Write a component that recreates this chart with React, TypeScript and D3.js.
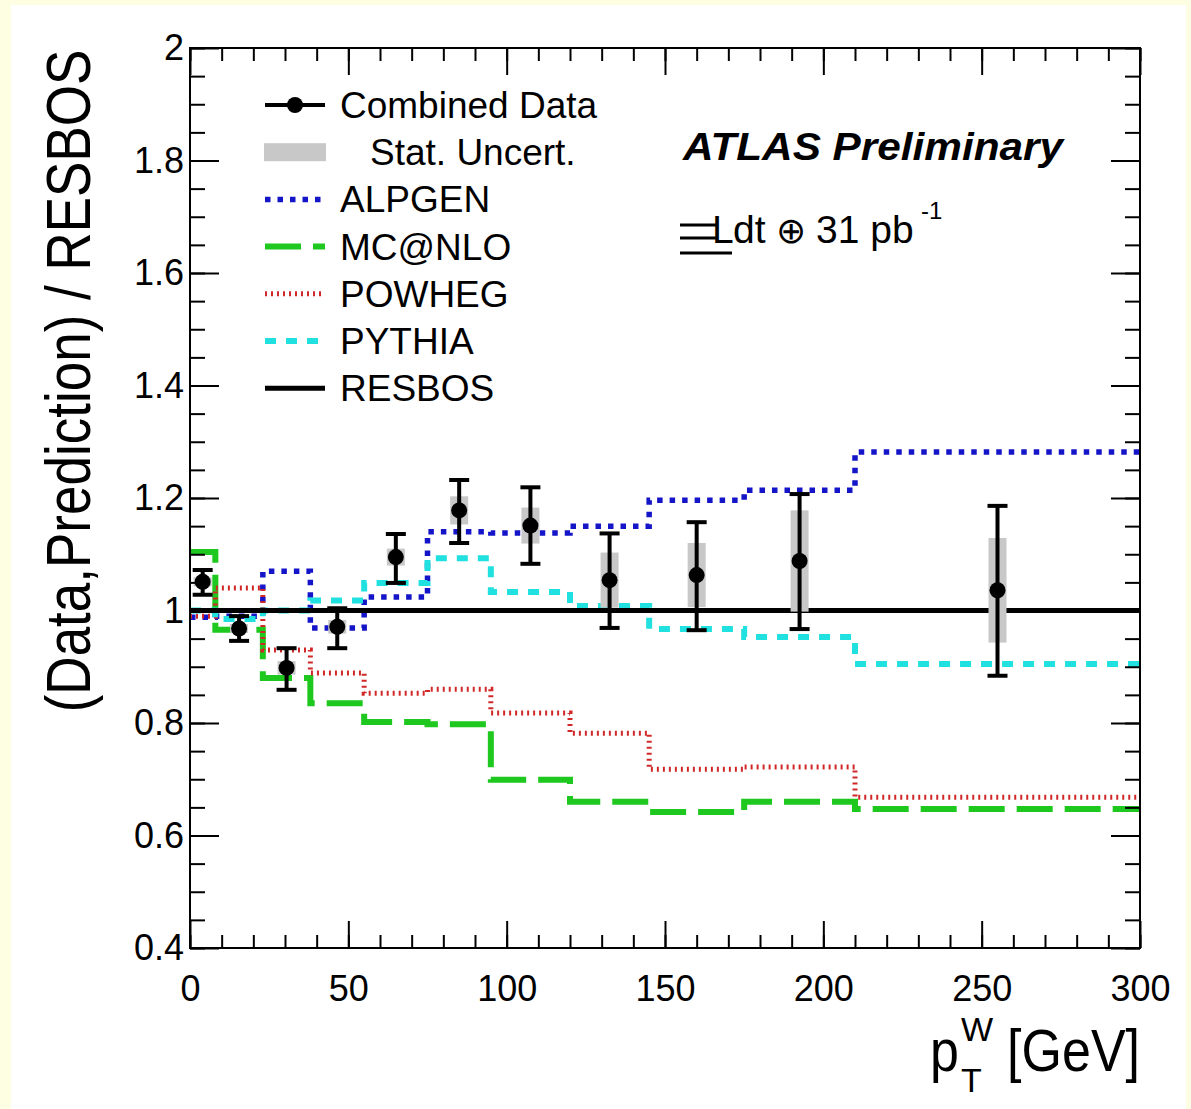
import { useEffect, useRef } from "react";
import * as d3 from "d3";

// bin edges in pT(W) [GeV]
const binEdges = [0, 8, 23, 38, 55, 75, 95, 120, 145, 175, 210, 300];

// prediction / RESBOS, one value per bin
const alpgen = [0.988, 0.99, 1.07, 0.969, 1.024, 1.14, 1.138, 1.15, 1.196, 1.214, 1.282];
const mcatnlo = [1.104, 0.966, 0.88, 0.835, 0.802, 0.798, 0.699, 0.66, 0.642, 0.66, 0.647];
const powheg = [0.99, 1.04, 0.93, 0.889, 0.853, 0.86, 0.818, 0.782, 0.718, 0.722, 0.668];
const pythia = [1.0, 0.985, 1.0, 1.018, 1.049, 1.093, 1.033, 1.008, 0.967, 0.953, 0.905];
const resbos = [1, 1, 1, 1, 1, 1, 1, 1, 1, 1, 1];

// combined data / RESBOS
const dataX = [4, 15.5, 30.5, 46.5, 65, 85, 107.5, 132.5, 160, 192.5, 255];
const dataY = [1.051, 0.968, 0.898, 0.971, 1.095, 1.178, 1.151, 1.054, 1.063, 1.088, 1.036];
const errUp = [0.021, 0.022, 0.035, 0.033, 0.041, 0.054, 0.068, 0.083, 0.094, 0.119, 0.15];
const errDown = [0.023, 0.022, 0.039, 0.038, 0.046, 0.058, 0.068, 0.085, 0.098, 0.121, 0.152];
const statErr = [0.008, 0.008, 0.012, 0.012, 0.015, 0.025, 0.032, 0.049, 0.057, 0.09, 0.093];

const xMajor = [0, 50, 100, 150, 200, 250, 300];
const xTickLabels = ["0", "50", "100", "150", "200", "250", "300"];
const yMajor = [0.4, 0.6, 0.8, 1, 1.2, 1.4, 1.6, 1.8, 2];
const yTickLabels = ["0.4", "0.6", "0.8", "1", "1.2", "1.4", "1.6", "1.8", "2"];

const legendNames = ["Combined Data", "Stat. Uncert.", "ALPGEN", "MC@NLO", "POWHEG", "PYTHIA", "RESBOS"];

const W = 1191;
const H = 1109;
const left = 190;
const right = 1140;
const top = 48;
const bottom = 948;
const font = "'Liberation Sans', Arial, Helvetica, sans-serif";

const styles = {
  ALPGEN: { color: "#1414c8", width: 5.5, dash: "5.5 7" },
  "MC@NLO": { color: "#1ec81e", width: 6, dash: "36 12" },
  POWHEG: { color: "#d02828", width: 5, dash: "2 4" },
  PYTHIA: { color: "#20e0e0", width: 6, dash: "11 10" },
  RESBOS: { color: "#000000", width: 5, dash: null },
};

const series = [
  { name: "ALPGEN", values: alpgen },
  { name: "MC@NLO", values: mcatnlo },
  { name: "POWHEG", values: powheg },
  { name: "PYTHIA", values: pythia },
  { name: "RESBOS", values: resbos },
];

export default function App() {
  const xAxisRef = useRef(null);
  const yAxisRef = useRef(null);

  const x = d3.scaleLinear().domain([0, 300]).range([left, right]);
  const y = d3.scaleLinear().domain([0.4, 2]).range([bottom, top]);

  const step = d3
    .line<[number, number]>()
    .x((d) => x(d[0]))
    .y((d) => y(d[1]))
    .curve(d3.curveStepAfter);

  const histPoints = (vals: number[]) =>
    binEdges.map((e, i) => [e, vals[Math.min(i, vals.length - 1)]] as [number, number]);

  useEffect(() => {
    const gx = d3.select(xAxisRef.current);
    const gy = d3.select(yAxisRef.current);
    gx.selectAll("*").remove();
    gy.selectAll("*").remove();

    // x axes (bottom with labels, top without)
    gx.append("g")
      .attr("transform", `translate(0,${bottom})`)
      .call(d3.axisBottom(x).tickValues(xMajor).tickSize(-27).tickPadding(27).tickFormat((_, i) => xTickLabels[i]));
    gx.append("g")
      .attr("transform", `translate(0,${bottom})`)
      .call(d3.axisBottom(x).ticks(30).tickSize(-13).tickFormat(() => ""));
    gx.append("g")
      .attr("transform", `translate(0,${top})`)
      .call(d3.axisTop(x).tickValues(xMajor).tickSize(-27).tickFormat(() => ""));
    gx.append("g")
      .attr("transform", `translate(0,${top})`)
      .call(d3.axisTop(x).ticks(30).tickSize(-13).tickFormat(() => ""));

    // y axes (left with labels, right without)
    gy.append("g")
      .attr("transform", `translate(${left},0)`)
      .call(d3.axisLeft(y).tickValues(yMajor).tickSize(-29).tickPadding(6).tickFormat((_, i) => yTickLabels[i]));
    gy.append("g")
      .attr("transform", `translate(${left},0)`)
      .call(d3.axisLeft(y).ticks(32).tickSize(-15).tickFormat(() => ""));
    gy.append("g")
      .attr("transform", `translate(${right},0)`)
      .call(d3.axisRight(y).tickValues(yMajor).tickSize(-29).tickFormat(() => ""));
    gy.append("g")
      .attr("transform", `translate(${right},0)`)
      .call(d3.axisRight(y).ticks(32).tickSize(-15).tickFormat(() => ""));

    [gx, gy].forEach((g) => {
      g.selectAll(".domain").remove();
      g.selectAll(".tick line").attr("stroke", "#000").attr("stroke-width", 2);
      g.selectAll("g").attr("font-family", font).attr("font-size", 36);
      g.selectAll(".tick text").attr("fill", "#000");
    });
  }, []);

  const legendY = (i: number) => 105 + i * 47.2;

  return (
    <svg width={W} height={H} style={{ position: "absolute", left: 0, top: 0 }} fontFamily={font}>
      <rect x={0} y={0} width={W} height={H} fill="#fefee2" />
      <rect x={11} y={5} width={1175} height={H - 5} fill="#ffffff" />

      {/* model histograms */}
      {series.map((s) => {
        const st = styles[s.name];
        return (
          <path
            key={s.name}
            d={step(histPoints(s.values)) || ""}
            fill="none"
            stroke={st.color}
            strokeWidth={st.width}
            strokeDasharray={st.dash || undefined}
          />
        );
      })}

      {/* stat uncertainty bands */}
      {dataX.map((dx, i) => (
        <rect
          key={"s" + i}
          x={x(dx) - 9}
          y={y(dataY[i] + statErr[i])}
          width={18}
          height={y(dataY[i] - statErr[i]) - y(dataY[i] + statErr[i])}
          fill="#c8c8c8"
        />
      ))}

      {/* data points with total errors */}
      {dataX.map((dx, i) => {
        const cx = x(dx);
        const yt = y(dataY[i] + errUp[i]);
        const yb = y(dataY[i] - errDown[i]);
        return (
          <g key={"d" + i} stroke="#000" strokeWidth={4}>
            <line x1={cx} x2={cx} y1={yt} y2={yb} />
            <line x1={cx - 10} x2={cx + 10} y1={yt} y2={yt} />
            <line x1={cx - 10} x2={cx + 10} y1={yb} y2={yb} />
            <circle cx={cx} cy={y(dataY[i])} r={8} fill="#000" stroke="none" />
          </g>
        );
      })}

      <g ref={xAxisRef} />
      <g ref={yAxisRef} />
      <rect x={left} y={top} width={right - left} height={bottom - top} fill="none" stroke="#000" strokeWidth={2} />

      {/* legend */}
      <g>
        {legendNames.map((name, i) => {
          const ly = legendY(i);
          let key = null;
          if (i === 0) {
            key = (
              <g>
                <line x1={265} x2={325} y1={ly} y2={ly} stroke="#000" strokeWidth={4} />
                <circle cx={295} cy={ly} r={8} fill="#000" />
              </g>
            );
          } else if (i === 1) {
            key = <rect x={264} y={ly - 9} width={62} height={18} fill="#c8c8c8" />;
          } else {
            const st = styles[name];
            key = (
              <line
                x1={265}
                x2={325}
                y1={ly}
                y2={ly}
                stroke={st.color}
                strokeWidth={st.width}
                strokeDasharray={st.dash || undefined}
              />
            );
          }
          return (
            <g key={name}>
              {key}
              <text x={i === 1 ? 370 : 340} y={ly + 13} fontSize={37} fill="#000">
                {name}
              </text>
            </g>
          );
        })}
      </g>

      {/* ATLAS label */}
      <text x={683} y={160} fontSize={38} fontWeight="bold" fontStyle="italic" fill="#000" textLength={380} lengthAdjust="spacingAndGlyphs">
        ATLAS Preliminary
      </text>
      <g stroke="#000" strokeWidth={3}>
        <line x1={680} x2={716} y1={225} y2={225} />
        <line x1={680} x2={716} y1={238} y2={238} />
        <line x1={680} x2={732} y1={253} y2={253} />
      </g>
      <text y={243} fontSize={39} fill="#000">
        <tspan x={712}>L</tspan>
        <tspan x={733}>dt</tspan>
        <tspan x={776} fontSize={36} fontFamily="'DejaVu Sans', sans-serif">⊕</tspan>
        <tspan x={816}>31 pb</tspan>
      </text>
      <text x={921} y={219} fontSize={24} fill="#000">
        -1
      </text>

      {/* axis titles */}
      <g transform="translate(1140,1071) scale(1,1.15)">
        <text x={0} y={0} fontSize={52} textAnchor="end" fill="#000">
          [GeV]
        </text>
      </g>
      <g transform="translate(930,1071) scale(1,1.15)">
        <text x={0} y={0} fontSize={52} fill="#000">
          p
        </text>
      </g>
      <text x={961} y={1041} fontSize={34} fill="#000">
        W
      </text>
      <text x={961} y={1092} fontSize={34} fill="#000">
        T
      </text>
      <g transform="translate(90,381) rotate(-90) scale(1,1.18)">
        <text x={0} y={0} fontSize={53} textAnchor="middle" fill="#000">
          (Data,Prediction) / RESBOS
        </text>
      </g>
    </svg>
  );
}
